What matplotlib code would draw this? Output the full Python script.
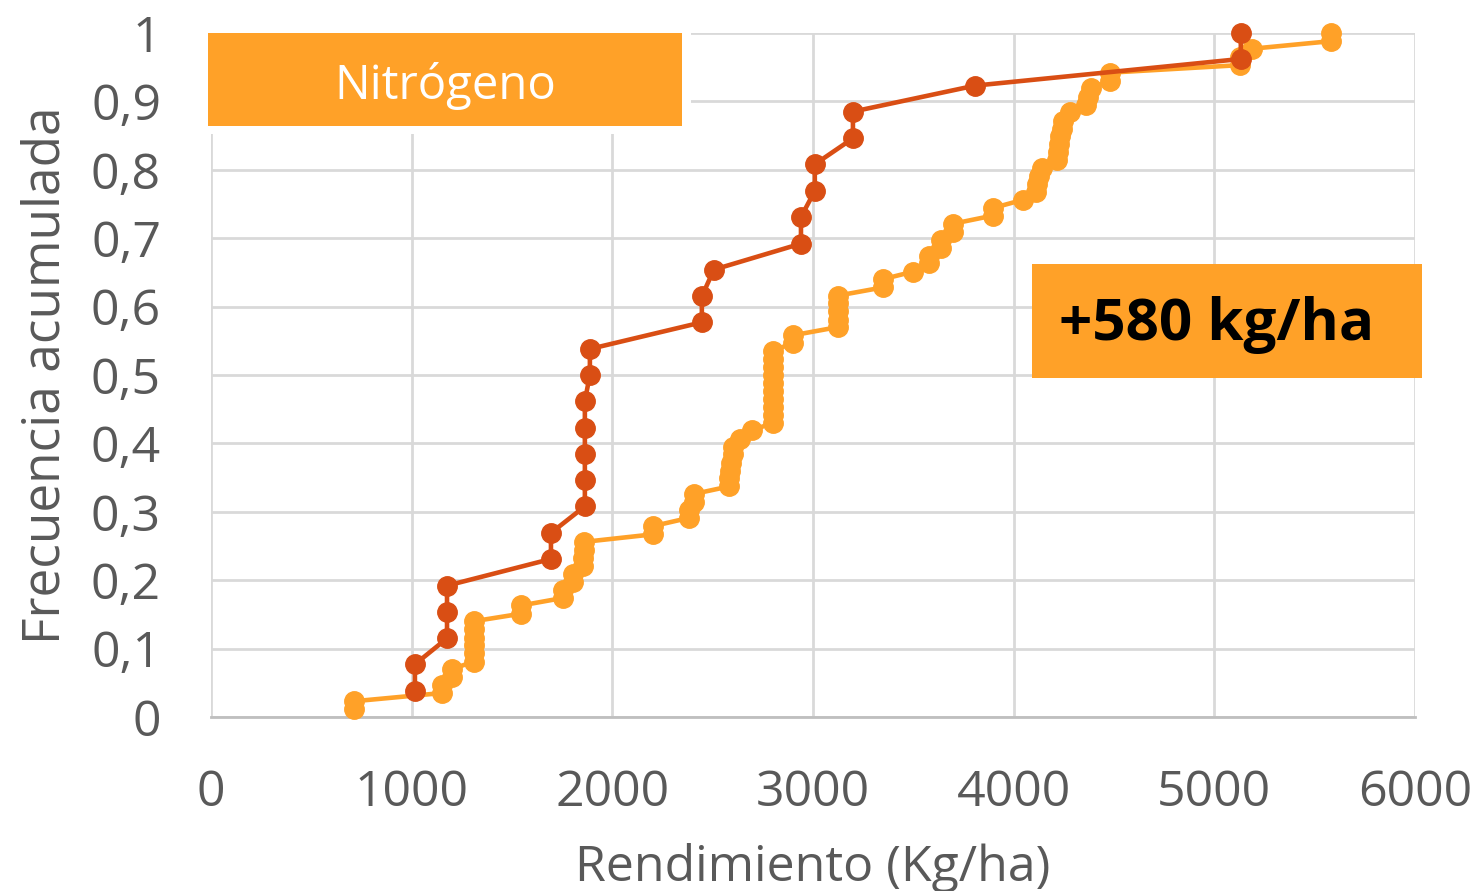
import numpy as np
import matplotlib.pyplot as plt
from matplotlib.patches import Rectangle

#-----------------------------------------------------------------------------------------------------#

# series with nitrogen (light) and without (dark); x = yield kg/ha, y = cumulative frequency
light_x = [712, 712, 1150, 1150, 1200, 1200,
           1310, 1310, 1310, 1310, 1310, 1310,
           1545, 1545, 1754, 1754, 1804, 1804,
           1853, 1853, 1858, 1860, 2202, 2202, 2381, 2381, 2406, 2406,
           2581, 2581, 2586, 2590, 2601, 2601, 2636, 2696,
           2800, 2800, 2800, 2800, 2800, 2800, 2800, 2800, 2800, 2800,
           2900, 2900, 3124, 3124, 3124, 3124, 3124, 3348, 3348, 3498,
           3580, 3580, 3640, 3640, 3697, 3697, 3896, 3896, 4045,
           4110, 4115, 4125, 4140, 4215, 4220, 4225, 4232, 4240, 4248,
           4280, 4360, 4370, 4385, 4480, 4480, 5127, 5127, 5190, 5580, 5580]
light_y = [0.012, 0.023, 0.035, 0.047, 0.058, 0.070,
           0.081, 0.093, 0.105, 0.116, 0.128, 0.140,
           0.151, 0.163, 0.174, 0.186, 0.198, 0.209,
           0.221, 0.233, 0.244, 0.256, 0.267, 0.279, 0.291, 0.302, 0.314, 0.326,
           0.337, 0.349, 0.360, 0.372, 0.384, 0.395, 0.407, 0.419,
           0.430, 0.442, 0.453, 0.465, 0.477, 0.488, 0.500, 0.512, 0.523, 0.535,
           0.547, 0.558, 0.570, 0.581, 0.593, 0.605, 0.616, 0.628, 0.640, 0.651,
           0.663, 0.674, 0.686, 0.698, 0.709, 0.721, 0.733, 0.744, 0.756,
           0.767, 0.779, 0.791, 0.802, 0.814, 0.826, 0.837, 0.849, 0.860, 0.872,
           0.884, 0.895, 0.907, 0.919, 0.930, 0.942, 0.953, 0.965, 0.977, 0.988, 1.000]

dark_x = [1016, 1016, 1176, 1176, 1176, 1694, 1694,
          1863, 1863, 1863, 1863, 1863, 1888, 1888,
          2446, 2446, 2506, 2940, 2940, 3009, 3009,
          3199, 3199, 3807, 5132, 5132]
dark_y = [0.038, 0.077, 0.115, 0.154, 0.192, 0.231, 0.269,
          0.308, 0.346, 0.385, 0.423, 0.462, 0.500, 0.538,
          0.577, 0.615, 0.654, 0.692, 0.731, 0.769, 0.808,
          0.846, 0.885, 0.923, 0.962, 1.000]

x_ticks = [0, 1000, 2000, 3000, 4000, 5000, 6000]
y_ticks = [0, 0.1, 0.2, 0.3, 0.4, 0.5, 0.6, 0.7, 0.8, 0.9, 1]
y_tick_labels = ['0', '0,1', '0,2', '0,3', '0,4', '0,5', '0,6', '0,7', '0,8', '0,9', '1']

#-----------------------------------------------------------------------------------------------------#

plt.rcParams['font.family'] = ['Open Sans', 'DejaVu Sans']

light_col = '#FFA128'
dark_col = '#D94E14'
grid_col = '#D9D9D9'
text_col = '#595959'

fig = plt.figure(figsize=(14.79, 8.91), dpi=100)
ax = fig.add_axes([0.1427, 0.1953, 0.8140, 0.7677])

ax.plot(light_x, light_y, color=light_col, lw=3.3, marker='o', ms=14, zorder=3, clip_on=False)
ax.plot(dark_x, dark_y, color=dark_col, lw=3.3, marker='o', ms=14, zorder=4, clip_on=False)

ax.set_xlim(0, 6000)
ax.set_ylim(0, 1)
ax.set_xticks(x_ticks)
ax.set_yticks(y_ticks)
ax.set_yticklabels(y_tick_labels)
ax.tick_params(length=0, labelsize=36, colors=text_col)
ax.tick_params(axis='y', pad=36)
ax.tick_params(axis='x', pad=37)
ax.grid(True, color=grid_col, lw=2)
ax.set_axisbelow(True)
for s in ['top', 'right', 'left']:
    ax.spines[s].set_visible(False)
ax.spines['bottom'].set_color('#BFBFBF')
ax.spines['bottom'].set_linewidth(2)

ax.set_xlabel('Rendimiento (Kg/ha)', fontsize=36, color=text_col, labelpad=18)
ax.set_ylabel('Frecuencia acumulada', fontsize=37, color=text_col, labelpad=14)

#-----------------------------------------------------------------------------------------------------#

# label boxes (white margin behind the first one hides the grid)
fig.add_artist(Rectangle((0.1380, 0.8500), 0.3290, 0.1150, transform=fig.transFigure,
                         facecolor='white', edgecolor='none', zorder=5))
fig.add_artist(Rectangle((0.1406, 0.8586), 0.3205, 0.1044, transform=fig.transFigure,
                         facecolor=light_col, edgecolor='none', zorder=6))
fig.text(0.301, 0.903, 'Nitrógeno', color='white', fontsize=34, ha='center', va='center', zorder=7)

fig.add_artist(Rectangle((0.6978, 0.5758), 0.2637, 0.128, transform=fig.transFigure,
                         facecolor=light_col, edgecolor='none', zorder=6))
fig.text(0.8225, 0.635, '+580 kg/ha', color='black', fontsize=42, fontweight='bold',
         ha='center', va='center', zorder=7)

fig.savefig('out.png', dpi=100)
